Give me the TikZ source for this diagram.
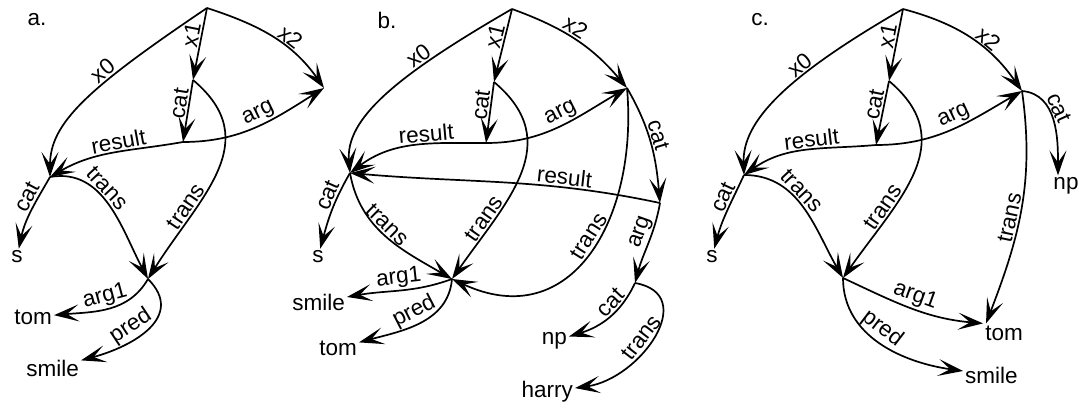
\documentclass[tikz,border=0pt]{standalone}
\usepackage{fontspec}
\setmainfont{Liberation Sans}
\usetikzlibrary{arrows.meta}

\tikzset{
  link/.style={line width=1.7pt, -{Stealth[length=25pt,width=17pt,inset=12pt]}},
  lbl/.style={sloped, above, inner sep=1.5pt},
  word/.style={inner sep=2pt},
}

\begin{document}
\begin{tikzpicture}[x=1pt, y=1pt, font=\fontsize{22.5}{26}\selectfont]
    \useasboundingbox (0,0) rectangle (1079,-409);

    % a. -- intransitive verb
    \node (alab) at (37,-20) {a.};
    \coordinate (aroot) at (207,-8);
    \coordinate (a0) at (50,-177);
    \coordinate (a1) at (193,-80);
    \coordinate (a2) at (324,-88);
    \coordinate (afun) at (183,-142);
    \coordinate (asem) at (148,-279);
    \node[word] (as) at (17,-257) {s};
    \node[word, anchor=east] (atom) at (54,-317) {tom};
    \node[word, anchor=east] (asmile) at (81,-368) {smile};

    \draw[link] (aroot) to[out=214, in=90, out looseness=1.6, in looseness=0.6] node[lbl, pos=.35] {x0} (a0);
    \draw[link] (aroot) -- node[lbl, pos=.4] {x1} (a1);
    \draw[link] (aroot) to[out=-18, in=125] node[lbl, pos=.6] {x2} (a2);
    \draw[link] (a1) -- node[lbl, pos=.4] {cat} (afun);
    \draw[link] (afun) to[out=190, in=30] node[lbl, pos=.45] {result} (a0);
    \draw[link] (afun) to[out=0, in=212] node[lbl, pos=.55] {arg} (a2);
    \draw[link] (a1) to[out=-40, in=58, looseness=1.2] node[lbl, pos=.7] {trans} (asem);
    \draw[link] (a0) to[out=10, in=118] node[lbl, pos=.4] {trans} (asem);
    \draw[link] (a0) to[out=240, in=78] node[lbl, pos=.35] {cat} (as);
    \draw[link] (asem) to[out=240, in=5] node[lbl, pos=.5] {arg1} (atom);
    \draw[link] (asem) to[out=-45, in=15, looseness=1.3] node[lbl, pos=.6] {pred} (asmile);

    % b. -- transitive verb
    \node (blab) at (387,-20) {b.};
    \coordinate (broot) at (512,-9);
    \coordinate (b0) at (350,-173);
    \coordinate (b1) at (494,-82);
    \coordinate (b2) at (627,-88);
    \coordinate (bfun) at (486,-143);
    \coordinate (bsem) at (452,-279);
    \coordinate (bcat) at (660,-203);
    \coordinate (barg) at (635,-283);
    \node[word] (bs) at (318,-257) {s};
    \node[word, anchor=east] (bsmile) at (347,-302) {smile};
    \node[word, anchor=east] (btom) at (359,-348) {tom};
    \node[word, anchor=east] (bnp) at (569,-341) {np};
    \node[word, anchor=east] (bharry) at (575,-392) {harry};

    \draw[link] (broot) to[out=210, in=95, out looseness=1.5, in looseness=0.6] node[lbl, pos=.3] {x0} (b0);
    \draw[link] (broot) -- node[lbl, pos=.4] {x1} (b1);
    \draw[link] (broot) to[out=-20, in=130] node[lbl, pos=.45] {x2} (b2);
    \draw[link] (b1) -- node[lbl, pos=.4] {cat} (bfun);
    \draw[link] (bfun) to[out=180, in=37] node[lbl, pos=.4] {result} (b0);
    \draw[link] (bfun) to[out=0, in=210] node[lbl, pos=.55] {arg} (b2);
    \draw[link] (b1) to[out=-40, in=55, looseness=1.2] node[lbl, pos=.75] {trans} (bsem);
    \draw[link] (b2) to[out=-60, in=95] node[lbl, pos=.45] {cat} (bcat);
    \draw[link] (bcat) to[out=168, in=-5] node[lbl, pos=.3] {result} (b0);
    \draw[link] (bcat) to[out=-100, in=75] node[lbl, pos=.4] {arg} (barg);
    \draw[link] (b2) to[out=-85, in=-25, looseness=1.3] node[lbl, pos=.45] {trans} (bsem);
    \draw[link] (barg) to[out=-115, in=17] node[lbl, pos=.35] {cat} (bnp);
    \draw[link] (barg) to[out=-10, in=8, looseness=1.4] node[lbl, pos=.55] {trans} (bharry);
    \draw[link] (b0) to[out=240, in=75] node[lbl, pos=.35] {cat} (bs);
    \draw[link] (b0) to[out=-80, in=150] node[lbl, pos=.45] {trans} (bsem);
    \draw[link] (bsem) to[out=200, in=10] node[lbl, pos=.5] {arg1} (bsmile);
    \draw[link] (bsem) to[out=-95, in=15] node[lbl, pos=.5] {pred} (btom);

    % c. -- control verb
    \node (clab) at (760,-20) {c.};
    \coordinate (croot) at (903,-9);
    \coordinate (c0) at (744,-175);
    \coordinate (c1) at (889,-81);
    \coordinate (c2) at (1022,-91);
    \coordinate (cfun) at (876,-145);
    \coordinate (csem) at (843,-278);
    \node[word] (cs) at (712,-257) {s};
    \node[word] (cnp) at (1066,-186) {np};
    \node[word] (ctom) at (1004,-333) {tom};
    \node[word, anchor=west] (csmile) at (963,-375) {smile};

    \draw[link] (croot) to[out=210, in=92, out looseness=1.5, in looseness=0.6] node[lbl, pos=.35] {x0} (c0);
    \draw[link] (croot) -- node[lbl, pos=.4] {x1} (c1);
    \draw[link] (croot) to[out=-15, in=125] node[lbl, pos=.6] {x2} (c2);
    \draw[link] (c1) -- node[lbl, pos=.4] {cat} (cfun);
    \draw[link] (cfun) to[out=185, in=35] node[lbl, pos=.45] {result} (c0);
    \draw[link] (cfun) to[out=0, in=210] node[lbl, pos=.55] {arg} (c2);
    \draw[link] (c2) to[out=-5, in=90] node[lbl, pos=.4] {cat} ([xshift=-8pt]cnp.north);
    \draw[link] (c2) to[out=-82, in=69] node[lbl, pos=.55] {trans} ([xshift=3pt]ctom.north west);
    \draw[link] (c1) to[out=-40, in=55, looseness=1.2] node[lbl, pos=.7] {trans} (csem);
    \draw[link] (c0) to[out=245, in=75] node[lbl, pos=.35] {cat} (cs);
    \draw[link] (c0) to[out=0, in=120] node[lbl, pos=.4] {trans} (csem);
    \draw[link] (csem) to[out=-25, in=175] node[lbl, pos=.5] {arg1} (ctom.north west);
    \draw[link] (csem) to[out=-90, in=172] node[lbl, pos=.45] {pred} (csmile);
\end{tikzpicture}
\end{document}
